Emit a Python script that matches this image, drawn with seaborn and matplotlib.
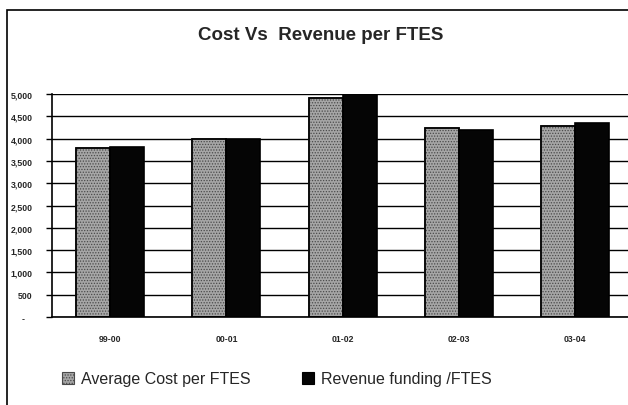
import matplotlib
matplotlib.use("Agg")
import matplotlib.pyplot as plt
from matplotlib.patches import Rectangle, Patch
import seaborn as sns
import pandas as pd

years = ["99-00", "00-01", "01-02", "02-03", "03-04"]
avg_cost = [3800, 3980, 4920, 4230, 4290]
revenue = [3810, 3990, 5000, 4190, 4360]
series_names = ["Average Cost per FTES", "Revenue funding /FTES"]
ytick_vals = [0, 500, 1000, 1500, 2000, 2500, 3000, 3500, 4000, 4500, 5000]
ytick_labels = ["-   ", "500", "1,000", "1,500", "2,000", "2,500", "3,000",
                "3,500", "4,000", "4,500", "5,000"]

df = pd.DataFrame({
    "year": years * 2,
    "value": avg_cost + revenue,
    "series": [series_names[0]] * len(years) + [series_names[1]] * len(years),
})

sns.set_style("white")
plt.rcParams["font.family"] = ["Liberation Sans", "DejaVu Sans"]
plt.rcParams["hatch.linewidth"] = 0.6

W, H = 628, 406
fig = plt.figure(figsize=(W / 100, H / 100), dpi=100)
fig.patch.set_facecolor("white")

x0, x1, ytop, ybot = 52, 633.5, 95, 318
ax = fig.add_axes([x0 / W, 1 - ybot / H, (x1 - x0) / W, (ybot - ytop) / H])

gray_face = "#a6a6a6"
hatch_col = "#4a4a4a"
palette = {series_names[0]: gray_face, series_names[1]: "#050505"}
sns.barplot(data=df, x="year", y="value", hue="series", palette=palette,
            width=0.585, gap=0, edgecolor="black", linewidth=1.2,
            saturation=1, ax=ax, legend=False)
for p in list(ax.patches[:len(years)]):
    p.set_hatch("......")
    p.set_edgecolor(hatch_col)
    ax.add_patch(Rectangle(p.get_xy(), p.get_width(), p.get_height(),
                           fill=False, edgecolor="black", linewidth=1.2, zorder=p.get_zorder() + 0.1))

ax.set_ylim(0, 5000)
ax.set_xlim(-0.5, 4.5)
ax.set_yticks(ytick_vals)
ax.set_yticklabels(ytick_labels, fontsize=6.3, fontweight="bold")
ax.yaxis.grid(True, color="black", linewidth=1.0)
ax.set_axisbelow(True)
ax.set_xticks(range(len(years)))
ax.set_xticklabels(years, fontsize=6.3, fontweight="bold")
ax.tick_params(axis="x", length=0, pad=12)
ax.set_xticks([i - 0.5 for i in range(len(years) + 1)], minor=True)
ax.tick_params(axis="x", which="minor", length=4, width=1, color="black", direction="out")
ax.tick_params(axis="y", length=4, width=1, color="black", direction="out", pad=10, left=True)
ax.set_xlabel("")
ax.set_ylabel("")
for s in ["top", "right"]:
    ax.spines[s].set_visible(False)
for s in ["left", "bottom"]:
    ax.spines[s].set_color("black")
    ax.spines[s].set_linewidth(1.2)

fig.text(321 / W, 1 - 36 / H, "Cost Vs  Revenue per FTES", ha="center", va="center",
         fontsize=13.5, fontweight="bold")

# chart border (left and top visible)
fig.patches.append(Rectangle((7 / W, -0.1), 1.2, 1 - 11 / H + 0.1,
                             transform=fig.transFigure, fill=False,
                             edgecolor="black", linewidth=1.2))

handles = [Patch(facecolor=gray_face, edgecolor=hatch_col, hatch="......", linewidth=0.8),
           Patch(facecolor="#050505", edgecolor="black", linewidth=0.8)]
fig.legend(handles, series_names, loc="center left", bbox_to_anchor=(56 / W, 1 - 380 / H),
           ncol=2, frameon=False, fontsize=11.5, handlelength=0.75, handleheight=0.75,
           handletextpad=0.4, columnspacing=3.25, borderaxespad=0)

fig.savefig("out.png", dpi=100)
